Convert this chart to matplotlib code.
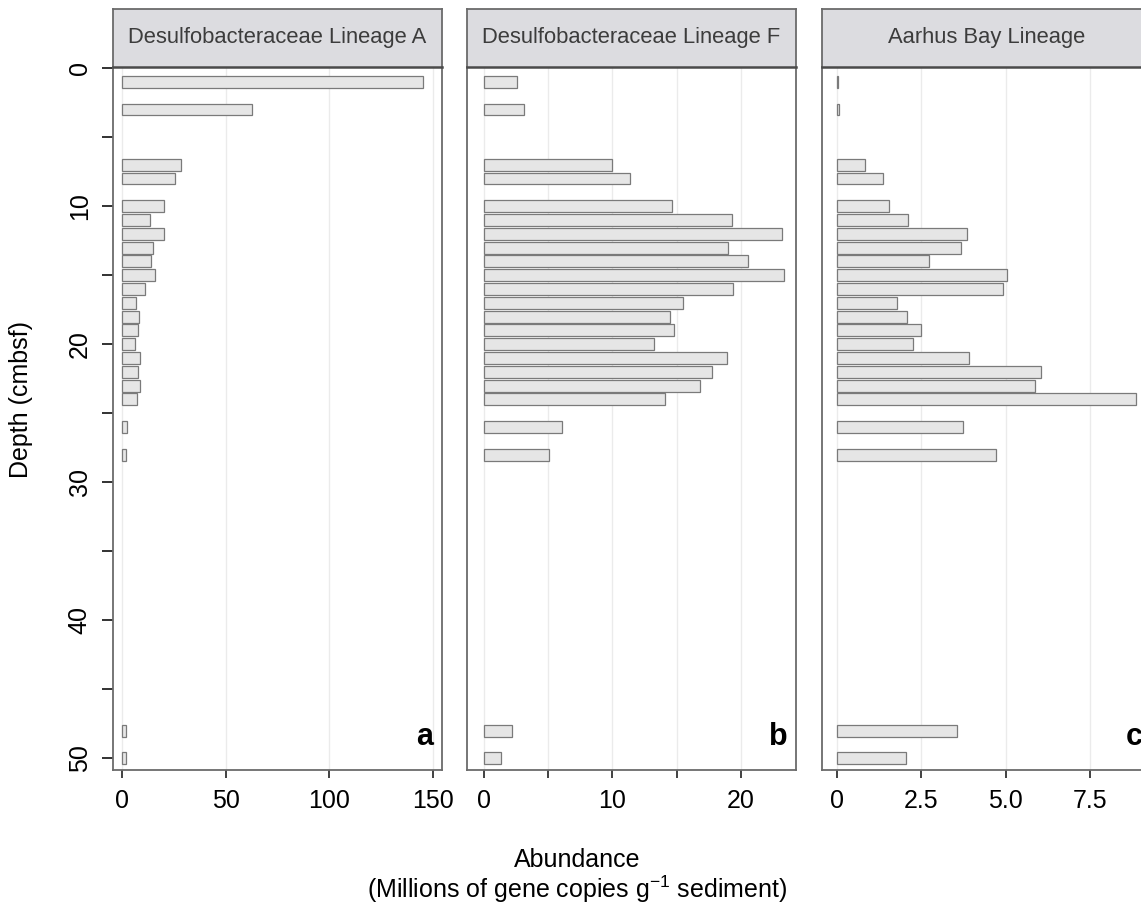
import numpy as np
import matplotlib
matplotlib.use("Agg")
import matplotlib.pyplot as plt

plt.rcParams['font.family'] = ['Liberation Sans', 'DejaVu Sans']
plt.rcParams['axes.unicode_minus'] = False

# depth of each sample (cmbsf)
depth = [1, 3, 7, 8, 10, 11, 12, 13, 14, 15, 16, 17, 18, 19, 20,
         21, 22, 23, 24, 26, 28, 48, 50]

# abundance, millions of gene copies per g sediment
lineage_a = [145.6, 62.9, 28.5, 25.3, 20.1, 13.3, 20.1, 14.7, 14.0, 15.7, 11.2, 6.5,
             8.3, 7.8, 6.3, 8.7, 7.8, 8.4, 7.0, 2.4, 1.9, 1.9, 1.6]
lineage_f = [2.6, 3.1, 10.0, 11.4, 14.6, 19.3, 23.2, 19.0, 20.5, 23.3, 19.4, 15.5,
             14.5, 14.8, 13.2, 18.9, 17.7, 16.8, 14.1, 6.1, 5.1, 2.2, 1.35]
aarhus_bay = [0.03, 0.08, 0.83, 1.38, 1.54, 2.12, 3.85, 3.68, 2.72, 5.03, 4.91, 1.79,
              2.07, 2.50, 2.25, 3.91, 6.04, 5.87, 8.87, 3.75, 4.71, 3.55, 2.04]

titles = ['Desulfobacteraceae Lineage A', 'Desulfobacteraceae Lineage F', 'Aarhus Bay Lineage']
letters = ['a', 'b', 'c']
series = [lineage_a, lineage_f, aarhus_bay]

xticks = [[0, 50, 100, 150], [0, 5, 10, 15, 20], [0, 2.5, 5.0, 7.5]]
xlabels = [['0', '50', '100', '150'], ['0', '', '10', '', '20'], ['0', '2.5', '5.0', '7.5']]
xlims = [(-4.65, 154.4), (-1.32, 24.24), (-0.44, 9.29)]

W, H = 1141, 919
fig = plt.figure(figsize=(W / 100, H / 100), dpi=100)

panel_left = [112.7, 466.7, 821.7]
panel_w = 329.0
panel_top, panel_bot = 66.7, 770.0
strip_top = 9.3

edge = '#6b6b6b'

for i in range(3):
    x0 = panel_left[i] / W
    ax = fig.add_axes([x0, 1 - panel_bot / H, panel_w / W, (panel_bot - panel_top) / H])
    ax.barh(depth, series[i], height=0.86, color='#e6e6e6', edgecolor='#7a7a7a',
            linewidth=0.9, zorder=3)
    ax.set_xlim(*xlims[i])
    ax.set_ylim(50.84, -0.1)
    ax.set_xticks(xticks[i], labels=xlabels[i])
    for xv in xticks[i]:
        ax.axvline(xv, color='#ebebeb', linewidth=1.0, zorder=1)
    ax.tick_params(axis='x', length=6, width=1.3, color='#333333', labelsize=18, pad=8)
    if i == 0:
        yt = list(range(0, 55, 5))
        ax.set_yticks(yt, labels=[str(v) if v % 10 == 0 else '' for v in yt])
        ax.tick_params(axis='y', length=8, width=1.3, color='#222222', labelsize=18,
                       pad=7, labelrotation=90)
        for lab in ax.get_yticklabels():
            lab.set_va('center')
    else:
        ax.set_yticks([])
    for sp in ax.spines.values():
        sp.set_color(edge)
        sp.set_linewidth(1.3)
    ax.text(0.975, 0.025, letters[i], transform=ax.transAxes, ha='right', va='bottom',
            fontsize=22, fontweight='bold', color='black')

    # facet strip with the lineage name
    st = fig.add_axes([x0, 1 - panel_top / H, panel_w / W, (panel_top - strip_top) / H])
    st.set_facecolor('#dcdce0')
    st.set_xticks([])
    st.set_yticks([])
    for sp in st.spines.values():
        sp.set_color(edge)
        sp.set_linewidth(1.3)
    st.spines['bottom'].set_color('#4a4a4a')
    st.spines['bottom'].set_linewidth(1.8)
    st.text(0.5, 0.5, titles[i], transform=st.transAxes, ha='center', va='center',
            fontsize=15.8, color='#3c3c3c')

fig.text(21 / W, 1 - 400 / H, 'Depth (cmbsf)', rotation=90, ha='center', va='center',
         fontsize=18)
fig.text(577 / W, 1 - 860 / H, 'Abundance', ha='center', va='center', fontsize=18)
fig.text(577 / W, 1 - 889 / H, '(Millions of gene copies g$^{\\mathregular{-1}}$ sediment)',
         ha='center', va='center', fontsize=18)

fig.savefig('out.png', dpi=100)
